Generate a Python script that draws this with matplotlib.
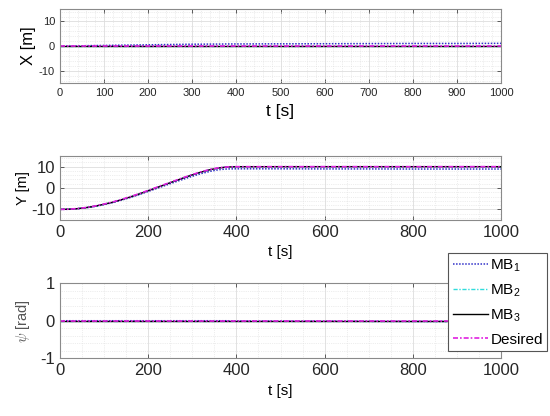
import numpy as np
import matplotlib
matplotlib.use('Agg')
import matplotlib.pyplot as plt
from matplotlib.ticker import MultipleLocator

plt.rcParams['font.family'] = ['Liberation Sans', 'DejaVu Sans']
plt.rcParams['mathtext.fontset'] = 'cm'
plt.rcParams['axes.unicode_minus'] = False

# time samples (s)
t = [0, 20, 40, 60, 80, 100, 120, 140, 160, 180, 200, 220, 240, 260, 280,
     300, 320, 340, 360, 380, 400, 500, 600, 700, 800, 900, 1000]

# X position [m]
x_mb1 = [0.0, 0.05, 0.1, 0.2, 0.25, 0.3, 0.35, 0.4, 0.45, 0.5, 0.55, 0.6, 0.65, 0.7, 0.75,
         0.8, 0.8, 0.85, 0.85, 0.9, 0.9, 0.95, 1.0, 1.05, 1.1, 1.1, 1.15]
x_mb2 = [0.0] * len(t)
x_mb3 = [0.0] * len(t)
x_des = [0.0] * len(t)

# Y position [m]
y_des = [-10.0, -9.9, -9.6, -9.1, -8.4, -7.5, -6.5, -5.3, -4.0, -2.6, -1.1, 0.4, 1.9, 3.4, 4.9,
         6.3, 7.6, 8.7, 9.5, 9.9, 10.0, 10.0, 10.0, 10.0, 10.0, 10.0, 10.0]
y_mb1 = [-10.0, -9.95, -9.7, -9.25, -8.6, -7.75, -6.8, -5.65, -4.4, -3.05, -1.6, -0.15, 1.3, 2.75, 4.15,
         5.5, 6.75, 7.8, 8.6, 8.95, 9.0, 9.0, 8.95, 8.95, 8.9, 8.9, 8.9]
y_mb2 = [-10.0, -9.92, -9.65, -9.15, -8.48, -7.6, -6.62, -5.43, -4.14, -2.75, -1.26, 0.24, 1.74, 3.24, 4.74,
         6.15, 7.46, 8.58, 9.4, 9.85, 9.98, 10.0, 10.0, 10.0, 10.0, 10.0, 10.0]
y_mb3 = y_mb2

# heading psi [rad]
psi_mb1 = [0.0, 0.0, 0.0, 0.0, 0.0, 0.0, 0.0, 0.0, 0.0, 0.0, 0.0, 0.0, 0.0, 0.0, 0.0,
           0.0, 0.0, 0.0, 0.0, 0.0, -0.005, -0.01, -0.01, -0.015, -0.02, -0.02, -0.02]
psi_mb2 = [0.0] * len(t)
psi_mb3 = [0.0] * len(t)
psi_des = [0.0] * len(t)

labels = ['MB$_{\\mathregular{1}}$', 'MB$_{\\mathregular{2}}$', 'MB$_{\\mathregular{3}}$', 'Desired']
styles = [dict(color='#3030c8', ls=(0, (1, 1)), lw=1.1),
          dict(color='#30dcdc', ls=(0, (3, 1.2, 1, 1.2)), lw=1.0),
          dict(color='black', ls='-', lw=1.0),
          dict(color='#e020e0', ls=(0, (3, 1.2, 1, 1.2)), lw=1.2)]

fig = plt.figure(figsize=(5.5, 4.16), dpi=100)
ax1 = fig.add_axes([0.109, 0.800, 0.802, 0.178])
ax2 = fig.add_axes([0.109, 0.471, 0.802, 0.154])
ax3 = fig.add_axes([0.109, 0.139, 0.802, 0.180])


def style_axes(ax, xstep, xminor, ystep, yminor, tick_fs):
    ax.set_xlim(0, 1000)
    ax.xaxis.set_major_locator(MultipleLocator(xstep))
    ax.xaxis.set_minor_locator(MultipleLocator(xminor))
    ax.yaxis.set_major_locator(MultipleLocator(ystep))
    ax.yaxis.set_minor_locator(MultipleLocator(yminor))
    ax.grid(True, which='major', color='#dddddd', lw=0.6)
    ax.grid(True, which='minor', color='#dddddd', lw=0.5, ls=':')
    ax.set_axisbelow(True)
    ax.tick_params(which='both', direction='in', labelsize=tick_fs, colors='#444444',
                   top=True, right=True)
    ax.tick_params(which='minor', length=0)
    ax.tick_params(which='major', length=3, width=0.6)
    for lab in ax.get_xticklabels() + ax.get_yticklabels():
        lab.set_color('#262626')
    for s in ax.spines.values():
        s.set_color('#8a8a8a')
        s.set_linewidth(0.8)


for yd, ax in [((x_mb1, x_mb2, x_mb3, x_des), ax1),
               ((y_mb1, y_mb2, y_mb3, y_des), ax2),
               ((psi_mb1, psi_mb2, psi_mb3, psi_des), ax3)]:
    for vals, lab, st in zip(yd, labels, styles):
        ax.plot(t, vals, label=lab, **st)

style_axes(ax1, 100, 20, 10, 2, 8)
ax1.set_ylim(-15, 15)
ax1.set_ylabel('X [m]', fontsize=12, labelpad=2)
ax1.set_xlabel('t [s]', fontsize=12.5)

style_axes(ax2, 200, 50, 10, 2, 12)
ax2.set_ylim(-15, 15)
ax2.set_ylabel('Y [m]', fontsize=10.5, labelpad=1)
ax2.set_xlabel('t [s]', fontsize=11)

style_axes(ax3, 200, 50, 1, 0.2, 12)
ax3.set_ylim(-1, 1)
ax3.set_ylabel('$\\psi$ [rad]', fontsize=10.5, labelpad=6, color='#555555')
ax3.set_xlabel('t [s]', fontsize=11)

handles, labs = ax3.get_legend_handles_labels()
leg = fig.legend(handles, labs, loc='upper left', bbox_to_anchor=(0.815, 0.392),
                 fontsize=11, frameon=True, fancybox=False, handlelength=2.3,
                 handletextpad=0.15, labelspacing=0.55, borderpad=0.3,
                 borderaxespad=0)
leg.get_frame().set_edgecolor('#555555')
leg.get_frame().set_linewidth(0.8)
leg.get_frame().set_alpha(1)

fig.savefig('out.png', dpi=100)
